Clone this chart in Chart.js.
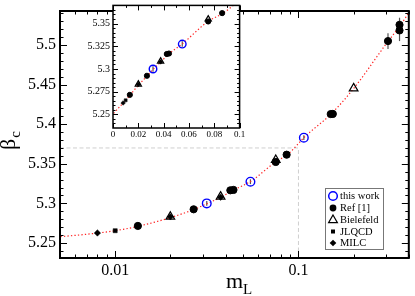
<!DOCTYPE html>
<html>
<head>
<meta charset="utf-8">
<script src="https://cdn.jsdelivr.net/npm/chart.js@4.4.1/dist/chart.umd.min.js"></script>
<style>
  body { margin: 0; background: #fff; }
  .wrap { position: relative; width: 415px; height: 296px; overflow: hidden; }
  #main { position: absolute; left: 0; top: 0; }
  #inset { position: absolute; left: 80px; top: 0; }
</style>
</head>
<body>
<div class="wrap">
  <canvas id="main" width="415" height="296"></canvas>
  <canvas id="inset" width="165" height="142"></canvas>
</div>
<script>
// values (m_L, beta_c)
const thisWorkM = [0.0316, 0.0547, 0.107];
const thisWorkB = [5.3000, 5.3274, 5.3830];
const thisWorkErr = [0.003, 0.003, 0.003];

const ref1M = [0.0133, 0.0268, 0.0425, 0.0442, 0.0752, 0.0862, 0.150, 0.154, 0.308, 0.356, 0.356];
const ref1B = [5.2715, 5.2925, 5.3165, 5.3170, 5.3523, 5.3615, 5.4128, 5.4130, 5.5050, 5.5255, 5.5185];
const ref1Err = [0, 0, 0, 0, 0, 0, 0.002, 0.002, 0.010, 0.009, 0.0135];

const bielefeldM = [0.02, 0.0376, 0.0752, 0.2];
const bielefeldB = [5.2832, 5.3085, 5.3548, 5.4453];

const jlqcdM = [0.01];
const jlqcdB = [5.2655];

const milcM = [0.008, 0.02, 0.0376];
const milcB = [5.2626, 5.2830, 5.3078];

// dotted fit curve, read point by point
const fitM = [0.0005, 0.002, 0.005, 0.008, 0.01, 0.0133, 0.02, 0.027, 0.0316, 0.0376, 0.044, 0.055, 0.0752, 0.087, 0.1, 0.107, 0.15, 0.2, 0.3, 0.36, 0.4];
const fitB = [5.2512, 5.2535, 5.2580, 5.2625, 5.2655, 5.2710, 5.2820, 5.2925, 5.2995, 5.3075, 5.3165, 5.3280, 5.3525, 5.3615, 5.3755, 5.3830, 5.4125, 5.4450, 5.5010, 5.5250, 5.5410];

// grey dashed frame showing the inset window
const frameM = [0.005, 0.1, 0.1];
const frameB = [5.37, 5.37, 5.231];

// axes
const xTicks = [0.01, 0.1];
const xTickLabels = ['0.01', '0.1'];
const xMinor = [0.005, 0.006, 0.007, 0.008, 0.009, 0.02, 0.03, 0.04, 0.05, 0.06, 0.07, 0.08, 0.09, 0.2, 0.3, 0.4];
const yTicks = [5.25, 5.3, 5.35, 5.4, 5.45, 5.5];
const yTickLabels = ['5.25', '5.3', '5.35', '5.4', '5.45', '5.5'];

const insetXTicks = [0, 0.02, 0.04, 0.06, 0.08, 0.1];
const insetXLabels = ['0', '0.02', '0.04', '0.06', '0.08', '0.1'];
const insetYTicks = [5.25, 5.275, 5.3, 5.325, 5.35];
const insetYLabels = ['5.25', '5.275', '5.3', '5.325', '5.35'];

const legendNames = ['this work', 'Ref [1]', 'Bielefeld', 'JLQCD', 'MILC'];

const serif = '"Liberation Serif", "DejaVu Serif", serif';

function pts(ms, bs) {
  return ms.map((m, i) => ({ x: m, y: bs[i] }));
}

function range(a, b, step) {
  const out = [];
  for (let v = a; v <= b + 1e-9; v += step) out.push(Math.round(v * 1e5) / 1e5);
  return out;
}

function markers(k) {
  return [
    { data: pts(thisWorkM, thisWorkB), errors: thisWorkErr, pointStyle: 'circle', pointRadius: 4.3 * (k > 0.8 ? 1 : 0.88),
      borderColor: '#0000ff', backgroundColor: 'rgba(0,0,0,0)', pointBorderWidth: 1.4 },
    { data: pts(ref1M, ref1B), errors: ref1Err, pointStyle: 'circle', pointRadius: 3.6 * k,
      borderColor: '#000', backgroundColor: '#000', pointBorderWidth: 1 },
    { data: pts(bielefeldM, bielefeldB), pointStyle: 'triangle', pointRadius: 5 * k,
      borderColor: '#000', backgroundColor: 'rgba(0,0,0,0)', pointBorderWidth: 1.2 },
    { data: pts(jlqcdM, jlqcdB), pointStyle: 'rect', pointRadius: 2.9 * k,
      borderColor: '#000', backgroundColor: '#000', pointBorderWidth: 0.5 },
    { data: pts(milcM, milcB), pointStyle: 'rectRot', pointRadius: 3.2 * k,
      borderColor: '#000', backgroundColor: '#000', pointBorderWidth: 0.5 }
  ];
}

function fitLine() {
  return { data: pts(fitM, fitB), showLine: true, pointRadius: 0, borderColor: '#ff2020',
    borderWidth: 1.2, borderDash: [1.3, 2.2], cubicInterpolationMode: 'monotone', fill: false };
}

// inward ticks on all four sides plus the frame
const boxTicks = {
  id: 'boxTicks',
  afterDraw(chart, args, o) {
    const { ctx, chartArea: a, scales } = chart;
    const x = scales.x, y = scales.y;
    ctx.save();
    ctx.strokeStyle = '#000';
    ctx.lineWidth = o.tickWidth;
    ctx.beginPath();
    const xt = (v, len) => {
      const p = Math.round(x.getPixelForValue(v)) + 0.5;
      ctx.moveTo(p, a.bottom); ctx.lineTo(p, a.bottom - len);
      ctx.moveTo(p, a.top); ctx.lineTo(p, a.top + len);
    };
    const yt = (v, len) => {
      const p = Math.round(y.getPixelForValue(v)) + 0.5;
      ctx.moveTo(a.left, p); ctx.lineTo(a.left + len, p);
      ctx.moveTo(a.right, p); ctx.lineTo(a.right - len, p);
    };
    o.xMinor.forEach(v => xt(v, o.minor));
    o.xMajor.forEach(v => xt(v, o.major));
    o.yMinor.forEach(v => yt(v, o.minor));
    o.yMajor.forEach(v => yt(v, o.major));
    ctx.stroke();
    ctx.lineWidth = o.frameWidth;
    ctx.strokeRect(a.left, a.top, a.right - a.left, a.bottom - a.top);
    ctx.restore();
  }
};

// vertical error bars from dataset.errors
const errorBars = {
  id: 'errorBars',
  beforeDatasetsDraw(chart) {
    const { ctx, scales: { y } } = chart;
    ctx.save();
    ctx.strokeStyle = '#555';
    ctx.lineWidth = 1.2;
    chart.data.datasets.forEach((ds, i) => {
      if (!ds.errors) return;
      chart.getDatasetMeta(i).data.forEach((pt, j) => {
        const e = ds.errors[j];
        if (!e) return;
        const b = ds.data[j].y;
        ctx.beginPath();
        ctx.moveTo(pt.x, y.getPixelForValue(b - e));
        ctx.lineTo(pt.x, y.getPixelForValue(b + e));
        ctx.stroke();
      });
    });
    ctx.restore();
  }
};

const whiteArea = {
  id: 'whiteArea',
  beforeDraw(chart) {
    const { ctx, chartArea: a } = chart;
    ctx.save();
    ctx.fillStyle = '#fff';
    ctx.fillRect(a.left, a.top, a.right - a.left, a.bottom - a.top);
    ctx.restore();
  }
};

function drawSymbol(ctx, kind, x, y) {
  ctx.beginPath();
  if (kind === 0) {
    ctx.strokeStyle = '#0000ff'; ctx.lineWidth = 1.5;
    ctx.arc(x, y, 4.3, 0, Math.PI * 2); ctx.stroke();
  } else if (kind === 1) {
    ctx.fillStyle = '#000';
    ctx.arc(x, y, 3.4, 0, Math.PI * 2); ctx.fill();
  } else if (kind === 2) {
    ctx.strokeStyle = '#000'; ctx.lineWidth = 1.2;
    ctx.moveTo(x, y - 5); ctx.lineTo(x + 4.4, y + 2.7); ctx.lineTo(x - 4.4, y + 2.7); ctx.closePath(); ctx.stroke();
  } else if (kind === 3) {
    ctx.fillStyle = '#000';
    ctx.fillRect(x - 2, y - 2, 4, 4);
  } else {
    ctx.fillStyle = '#000';
    ctx.moveTo(x, y - 3.3); ctx.lineTo(x + 3.3, y); ctx.lineTo(x, y + 3.3); ctx.lineTo(x - 3.3, y); ctx.closePath(); ctx.fill();
  }
}

const legendBox = {
  id: 'legendBox',
  afterDraw(chart) {
    const ctx = chart.ctx;
    const rows = [196, 208, 220, 231.5, 243];
    ctx.save();
    ctx.fillStyle = '#fff';
    ctx.fillRect(325.5, 188.5, 58, 61);
    ctx.strokeStyle = '#777';
    ctx.lineWidth = 1;
    ctx.strokeRect(325.5, 188.5, 58, 61);
    ctx.font = '10.5px ' + serif;
    ctx.textBaseline = 'middle';
    legendNames.forEach((name, i) => {
      drawSymbol(ctx, i, 333, rows[i]);
      ctx.fillStyle = '#000';
      ctx.fillText(name, 340, rows[i] + 0.5);
    });
    ctx.restore();
  }
};

const axisTitles = {
  id: 'axisTitles',
  afterDraw(chart) {
    const ctx = chart.ctx;
    ctx.save();
    ctx.fillStyle = '#000';
    ctx.textBaseline = 'alphabetic';
    // beta_c, rotated
    ctx.translate(15, 150);
    ctx.rotate(-Math.PI / 2);
    ctx.font = '22px ' + serif;
    ctx.fillText('β', 0, 0);
    const w = ctx.measureText('β').width;
    ctx.font = '15px ' + serif;
    ctx.fillText('c', w + 1, 5);
    ctx.setTransform(1, 0, 0, 1, 0, 0);
    // m_L
    ctx.font = '22px ' + serif;
    ctx.fillText('m', 226, 288);
    const mw = ctx.measureText('m').width;
    ctx.font = '15px ' + serif;
    ctx.fillText('L', 226 + mw, 294);
    ctx.restore();
  }
};

const mainCtx = document.getElementById('main');
const insetCtx = document.getElementById('inset');

new Chart(mainCtx, {
  type: 'scatter',
  data: {
    datasets: [
      ...markers(1),
      fitLine(),
      { data: pts(frameM, frameB), showLine: true, pointRadius: 0, borderColor: '#cfcfcf',
        borderWidth: 1, borderDash: [4, 2.5], fill: false }
    ]
  },
  options: {
    responsive: false,
    animation: false,
    events: [],
    layout: { padding: { left: 0, top: 11, right: 1, bottom: 0 } },
    plugins: {
      legend: { display: false },
      tooltip: { enabled: false },
      boxTicks: { xMajor: xTicks, xMinor: xMinor, yMajor: yTicks, yMinor: range(5.24, 5.54, 0.01),
        major: 7, minor: 3.5, tickWidth: 1, frameWidth: 2 }
    },
    scales: {
      x: {
        type: 'logarithmic', min: 0.005, max: 0.4,
        grid: { display: false, drawTicks: false }, border: { display: false },
        afterBuildTicks: s => { s.ticks = xTicks.map(v => ({ value: v, major: false })); },
        afterFit: s => { s.height = 38; s.paddingLeft = 0; s.paddingRight = 0; },
        ticks: { autoSkip: false, maxRotation: 0, padding: 3, color: '#000',
          font: { family: serif, size: 16 }, callback: (v, i) => xTickLabels[i] }
      },
      y: {
        min: 5.231, max: 5.543,
        grid: { display: false, drawTicks: false }, border: { display: false },
        afterBuildTicks: s => { s.ticks = yTicks.map(v => ({ value: v })); },
        afterFit: s => { s.width = 60; s.paddingTop = 0; s.paddingBottom = 0; },
        ticks: { autoSkip: false, padding: 4, color: '#000',
          font: { family: serif, size: 16 }, callback: (v, i) => yTickLabels[i] }
      }
    }
  },
  plugins: [errorBars, boxTicks, legendBox, axisTitles]
});

new Chart(insetCtx, {
  type: 'scatter',
  data: {
    datasets: [...markers(0.72), fitLine()]
  },
  options: {
    responsive: false,
    animation: false,
    events: [],
    layout: { padding: { left: 0, top: 0, right: 2, bottom: 0 } },
    plugins: {
      legend: { display: false },
      tooltip: { enabled: false },
      boxTicks: { xMajor: insetXTicks, xMinor: range(0.01, 0.09, 0.02), yMajor: insetYTicks,
        yMinor: range(5.24, 5.365, 0.005), major: 5, minor: 2.5, tickWidth: 1, frameWidth: 1.5 }
    },
    scales: {
      x: {
        type: 'linear', min: 0, max: 0.1,
        grid: { display: false, drawTicks: false }, border: { display: false },
        afterBuildTicks: s => { s.ticks = insetXTicks.map(v => ({ value: v })); },
        afterFit: s => { s.height = 14; s.paddingLeft = 0; s.paddingRight = 0; },
        ticks: { autoSkip: false, maxRotation: 0, padding: 1, color: '#000',
          font: { family: serif, size: 9 }, callback: (v, i) => insetXLabels[i] }
      },
      y: {
        min: 5.235, max: 5.37,
        grid: { display: false, drawTicks: false }, border: { display: false },
        afterBuildTicks: s => { s.ticks = insetYTicks.map(v => ({ value: v })); },
        afterFit: s => { s.width = 33; s.paddingTop = 0; s.paddingBottom = 0; },
        ticks: { autoSkip: false, padding: 3, color: '#000',
          font: { family: serif, size: 10 }, callback: (v, i) => insetYLabels[i] }
      }
    }
  },
  plugins: [whiteArea, errorBars, boxTicks]
});
</script>
</body>
</html>
